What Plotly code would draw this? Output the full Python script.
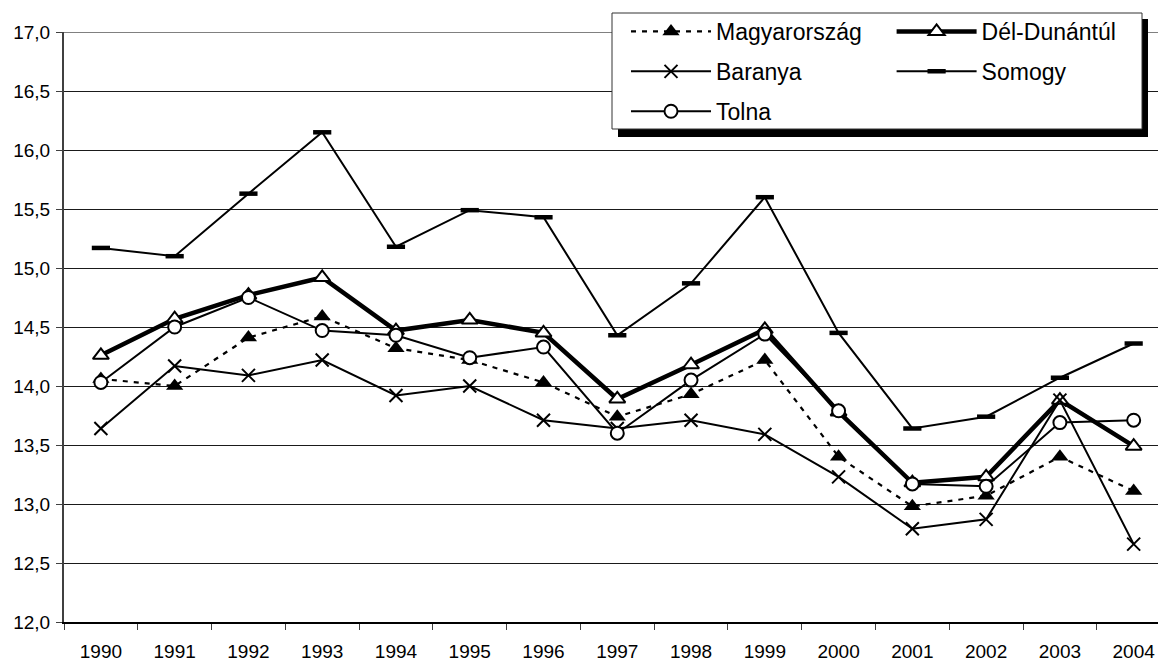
import plotly.graph_objects as go

years = ["1990", "1991", "1992", "1993", "1994", "1995", "1996", "1997",
         "1998", "1999", "2000", "2001", "2002", "2003", "2004"]

magyarorszag = [14.06, 14.00, 14.41, 14.59, 14.32, 14.22, 14.03, 13.74,
                13.93, 14.22, 13.40, 12.98, 13.07, 13.40, 13.11]
del_dunantul = [14.26, 14.57, 14.77, 14.92, 14.47, 14.56, 14.45, 13.89,
                14.18, 14.48, 13.78, 13.18, 13.23, 13.88, 13.49]
baranya = [13.64, 14.17, 14.09, 14.22, 13.92, 14.00, 13.71, 13.64,
           13.71, 13.59, 13.23, 12.79, 12.87, 13.88, 12.66]
somogy = [15.17, 15.10, 15.63, 16.15, 15.18, 15.49, 15.43, 14.43,
          14.87, 15.60, 14.45, 13.64, 13.74, 14.07, 14.36]
tolna = [14.03, 14.50, 14.75, 14.47, 14.43, 14.24, 14.33, 13.60,
         14.05, 14.44, 13.79, 13.17, 13.15, 13.69, 13.71]

y_ticks = [12.0, 12.5, 13.0, 13.5, 14.0, 14.5, 15.0, 15.5, 16.0, 16.5, 17.0]

W, H = 1158, 661
ML, MT, MB = 64, 32, 39
PW = W - ML
PH = H - MT - MB
FONT = "Liberation Sans, Arial, sans-serif"


def px_x(p):
    return (p - ML) / PW


def px_y(p):
    return (H - MB - p) / PH


fig = go.Figure()

fig.add_trace(go.Scatter(
    x=years, y=magyarorszag, name="Magyarország", mode="lines+markers",
    line=dict(color="black", width=2.2, dash="5px,6px"),
    marker=dict(symbol="triangle-up", size=15, color="black",
                line=dict(color="black", width=0)),
    legend="legend", legendgroup="g1"))

fig.add_trace(go.Scatter(
    x=years, y=del_dunantul, name="Dél-Dunántúl", mode="lines+markers",
    line=dict(color="black", width=4.5),
    marker=dict(symbol="triangle-up", size=14, color="white",
                line=dict(color="black", width=2)),
    legend="legend2", legendgroup="g2"))

fig.add_trace(go.Scatter(
    x=years, y=baranya, name="Baranya", mode="lines+markers",
    line=dict(color="black", width=2),
    marker=dict(symbol="x-thin", size=13, color="black",
                line=dict(color="black", width=2)),
    legend="legend", legendgroup="g3"))

fig.add_trace(go.Scatter(
    x=years, y=somogy, name="Somogy", mode="lines+markers",
    line=dict(color="black", width=2),
    marker=dict(symbol="line-ew", size=13, color="black",
                line=dict(color="black", width=4.5)),
    legend="legend2", legendgroup="g4"))

fig.add_trace(go.Scatter(
    x=years, y=tolna, name="Tolna", mode="lines+markers",
    line=dict(color="black", width=2),
    marker=dict(symbol="circle", size=13, color="white",
                line=dict(color="black", width=2)),
    legend="legend", legendgroup="g5"))

# legend frame with shadow (decoration)
bx0, bx1, by0, by1 = 612, 1142, 13, 129
shapes = [
    dict(type="line", xref="paper", yref="y", x0=0, x1=1, y0=17, y1=17,
         line=dict(color="#808080", width=2), layer="below"),
    dict(type="rect", xref="paper", yref="paper",
         x0=px_x(bx0 + 6), x1=px_x(bx1 + 6), y0=px_y(by1 + 8), y1=px_y(by0 + 6),
         fillcolor="black", line=dict(width=0), layer="above"),
    dict(type="rect", xref="paper", yref="paper",
         x0=px_x(bx0), x1=px_x(bx1), y0=px_y(by1), y1=px_y(by0),
         fillcolor="white", line=dict(color="#333333", width=1), layer="above"),
]

legend_common = dict(
    orientation="v", xref="container", yref="container",
    xanchor="left", yanchor="top",
    bgcolor="rgba(0,0,0,0)", borderwidth=0,
    font=dict(family=FONT, size=23, color="black"),
    itemwidth=80, tracegroupgap=7, traceorder="grouped",
)

fig.update_layout(
    width=W, height=H,
    margin=dict(l=ML, r=0, t=MT, b=MB, autoexpand=False),
    paper_bgcolor="white", plot_bgcolor="white",
    separators=", ",
    font=dict(family=FONT, size=19, color="black"),
    showlegend=True,
    legend=dict(x=626 / W, y=1 - 10 / H, **legend_common),
    legend2=dict(x=891.6 / W, y=1 - 10 / H, **legend_common),
    shapes=shapes,
    xaxis=dict(
        type="category", range=[-0.5, -0.5 + PW / 73.77],
        tickson="boundaries", ticks="outside", ticklen=6, tickwidth=1,
        tickcolor="#404040",
        showline=True, linecolor="black", linewidth=2,
        showgrid=False, zeroline=False,
        tickfont=dict(family=FONT, size=19, color="black"),
        ticklabelstandoff=11,
    ),
    yaxis=dict(
        range=[12, 17], tickvals=y_ticks, tickformat=".1f",
        ticks="outside", ticklen=6, tickwidth=1, tickcolor="#404040",
        showline=True, linecolor="#404040", linewidth=2,
        showgrid=True, gridcolor="#1a1a1a", gridwidth=1,
        zeroline=False,
        tickfont=dict(family=FONT, size=19, color="black"),
        ticklabelstandoff=2,
    ),
)

fig.write_html(
    "out.html",
    config={"displayModeBar": False},
    post_script="document.body.style.margin='0';document.body.style.overflow='hidden';",
)
